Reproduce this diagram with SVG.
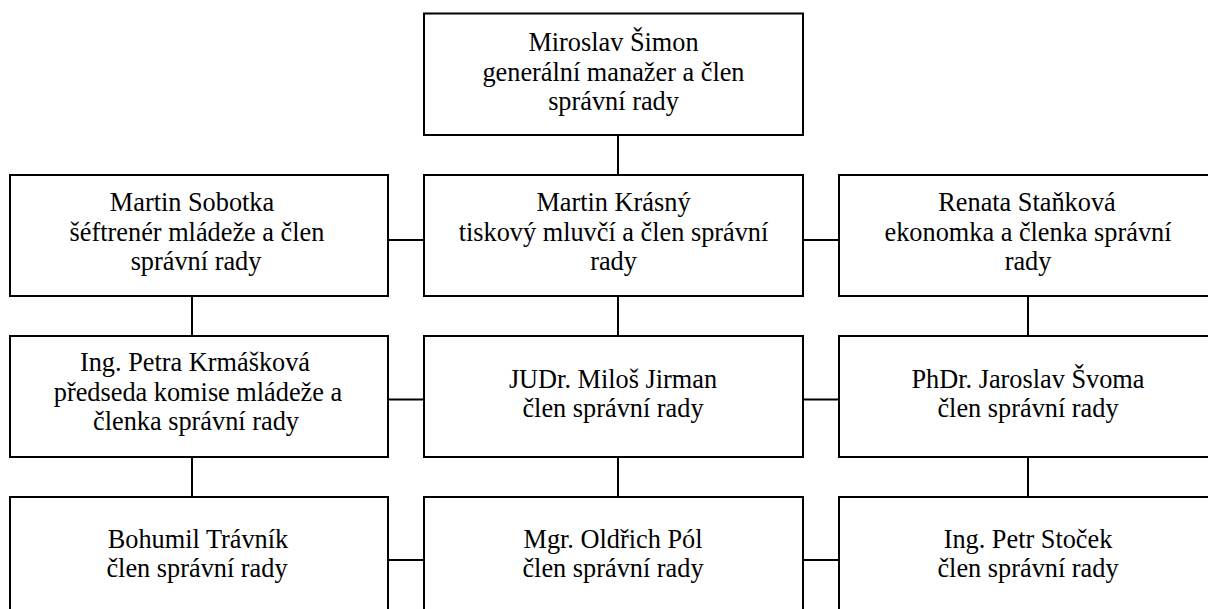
<svg xmlns="http://www.w3.org/2000/svg" width="1208" height="609" viewBox="0 0 1208 609">
<style>
.box{fill:#fff;stroke:#000;stroke-width:2}
.con{stroke:#000;stroke-width:2;fill:none}
</style>
<rect width="1208" height="609" fill="#fff"/>
<g id="connectors">
<line class="con" x1="618" y1="135" x2="618" y2="175"/>
<line class="con" x1="388" y1="240" x2="424" y2="240"/>
<line class="con" x1="803" y1="240" x2="839" y2="240"/>
<line class="con" x1="192" y1="296" x2="192" y2="336"/>
<line class="con" x1="618" y1="296" x2="618" y2="336"/>
<line class="con" x1="1028" y1="296" x2="1028" y2="336"/>
<line class="con" x1="388" y1="399.5" x2="424" y2="399.5"/>
<line class="con" x1="803" y1="399.5" x2="839" y2="399.5"/>
<line class="con" x1="192" y1="457" x2="192" y2="497"/>
<line class="con" x1="618" y1="457" x2="618" y2="497"/>
<line class="con" x1="1028" y1="457" x2="1028" y2="497"/>
<line class="con" x1="388" y1="560" x2="424" y2="560"/>
<line class="con" x1="803" y1="560" x2="839" y2="560"/>
</g>
<g font-family="Liberation Serif, DejaVu Serif, serif" font-size="26.3" fill="#000" text-anchor="middle">
<g id="n-simon">
<rect class="box" x="424" y="13.5" width="379" height="121.5"/>
<text><tspan x="613.5" y="51">Miroslav Šimon</tspan><tspan x="613.5" y="81">generální manažer a člen</tspan><tspan x="613.5" y="110">správní rady</tspan></text>
</g>
<g id="n-sobotka">
<rect class="box" x="10" y="175" width="378" height="121"/>
<text><tspan x="192" y="211">Martin Sobotka</tspan><tspan x="197" y="240.5">šéftrenér mládeže a člen</tspan><tspan x="196" y="270">správní rady</tspan></text>
</g>
<g id="n-krasny">
<rect class="box" x="424" y="175" width="379" height="121"/>
<text><tspan x="613.5" y="211">Martin Krásný</tspan><tspan x="613.5" y="240.5">tiskový mluvčí a člen správní</tspan><tspan x="613.5" y="270">rady</tspan></text>
</g>
<g id="n-stankova">
<rect class="box" x="839" y="175" width="378" height="121"/>
<text><tspan x="1027" y="211">Renata Staňková</tspan><tspan x="1028" y="240.5">ekonomka a členka správní</tspan><tspan x="1028" y="270">rady</tspan></text>
</g>
<g id="n-krmaskova">
<rect class="box" x="10" y="336" width="378" height="121"/>
<text><tspan x="195" y="371">Ing. Petra Krmášková</tspan><tspan x="198" y="400.5">předseda komise mládeže a</tspan><tspan x="196" y="430">členka správní rady</tspan></text>
</g>
<g id="n-jirman">
<rect class="box" x="424" y="336" width="379" height="121"/>
<text><tspan x="613" y="387.5">JUDr. Miloš Jirman</tspan><tspan x="613" y="417">člen správní rady</tspan></text>
</g>
<g id="n-svoma">
<rect class="box" x="839" y="336" width="378" height="121"/>
<text><tspan x="1028" y="387.5">PhDr. Jaroslav Švoma</tspan><tspan x="1028" y="417">člen správní rady</tspan></text>
</g>
<g id="n-travnik">
<rect class="box" x="10" y="497" width="378" height="140"/>
<text><tspan x="198" y="547.5">Bohumil Trávník</tspan><tspan x="197" y="577">člen správní rady</tspan></text>
</g>
<g id="n-pol">
<rect class="box" x="424" y="497" width="379" height="140"/>
<text><tspan x="613" y="547.5">Mgr. Oldřich Pól</tspan><tspan x="613" y="577">člen správní rady</tspan></text>
</g>
<g id="n-stocek">
<rect class="box" x="839" y="497" width="378" height="140"/>
<text><tspan x="1028" y="547.5">Ing. Petr Stoček</tspan><tspan x="1028" y="577">člen správní rady</tspan></text>
</g>
</g>
</svg>
